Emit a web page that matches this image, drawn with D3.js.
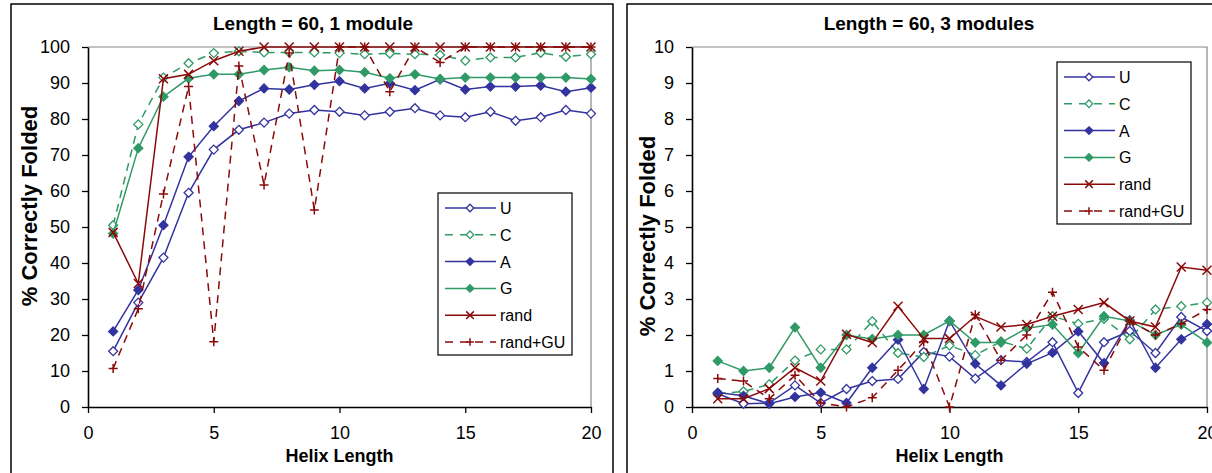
<!DOCTYPE html>
<html>
<head>
<meta charset="utf-8">
<script src="https://cdn.jsdelivr.net/npm/d3@7"></script>
<style>
  body { margin: 0; background: #fff; }
  svg { display: block; font-family: "Liberation Sans", Arial, sans-serif; }
</style>
</head>
<body>
<svg id="chart" width="1212" height="473"></svg>
<script>
// helix lengths (x categories)
var helixLength = [1, 2, 3, 4, 5, 6, 7, 8, 9, 10, 11, 12, 13, 14, 15, 16, 17, 18, 19, 20];
var seriesNames = ["U", "C", "A", "G", "rand", "rand+GU"];

// Length = 60, 1 module
var oneU = [15.5, 29, 41.5, 59.5, 71.5, 77, 79, 81.5, 82.5, 82, 81, 82, 83, 81, 80.5, 82, 79.5, 80.5, 82.5, 81.5];
var oneC = [50.5, 78.5, 91.5, 95.5, 98.3, 98.8, 98.5, 98.5, 98.5, 98.3, 98, 98.2, 98, 97.8, 96.2, 97.1, 97.1, 98.4, 97.3, 98];
var oneA = [21, 32.5, 50.5, 69.5, 78, 85, 88.5, 88.2, 89.5, 90.5, 88.5, 89.9, 88, 91, 88.2, 89, 89, 89.3, 87.6, 88.7];
var oneG = [48.2, 71.9, 86.2, 91.3, 92.4, 92.4, 93.6, 94.4, 93.4, 93.6, 93, 91.3, 92.4, 91.1, 91.5, 91.5, 91.5, 91.5, 91.5, 91.1];
var oneRand = [48.5, 34.3, 91.2, 92.4, 96.2, 98.8, 100, 100, 100, 100, 100, 100, 100, 100, 100, 100, 100, 100, 100, 100];
var oneRandGU = [10.7, 27.3, 59.2, 89, 18.1, 94.7, 61.7, 98.3, 54.7, 100, 100, 87.6, 100, 95.7, 100, 100, 100, 100, 100, 100];

// Length = 60, 3 modules
var threeU = [0.37, 0.09, 0.11, 0.6, 0.11, 0.5, 0.72, 0.78, 1.53, 1.4, 0.79, 1.3, 1.25, 1.8, 0.39, 1.8, 2.11, 1.5, 2.5, 2.11];
var threeC = [0.37, 0.43, 0.63, 1.29, 1.6, 1.6, 2.38, 1.5, 1.39, 1.71, 1.44, 1.82, 1.62, 2.52, 2.31, 2.45, 1.88, 2.71, 2.8, 2.9];
var threeA = [0.4, 0.31, 0.09, 0.28, 0.4, 0.11, 1.09, 1.87, 0.5, 2.39, 1.2, 0.6, 1.2, 1.51, 2.1, 1.22, 2.41, 1.09, 1.88, 2.3];
var threeG = [1.28, 1.0, 1.09, 2.21, 1.09, 2.0, 1.89, 2.0, 2.0, 2.39, 1.79, 1.79, 2.19, 2.29, 1.5, 2.52, 2.39, 2.0, 2.29, 1.79];
var threeRand = [0.23, 0.23, 0.51, 1.09, 0.72, 2.02, 1.79, 2.8, 1.9, 1.9, 2.52, 2.22, 2.29, 2.52, 2.71, 2.9, 2.39, 2.22, 3.89, 3.8];
var threeRandGU = [0.79, 0.72, 0.23, 0.88, 0.11, 0, 0.26, 1.02, 1.81, 0, 2.56, 1.3, 2.0, 3.19, 1.67, 1.02, 2.39, 2.0, 2.31, 2.71];

var xTicks = [0, 5, 10, 15, 20];
var yTicksOne = [0, 10, 20, 30, 40, 50, 60, 70, 80, 90, 100];
var yTicksThree = [0, 1, 2, 3, 4, 5, 6, 7, 8, 9, 10];

var blue = "#33339f", green = "#2f9a66", red = "#8a0a0a";
var styles = {
    "U":       { color: blue,  dash: null,  marker: "diamond", fill: "#fff" },
    "C":       { color: green, dash: "8,6", marker: "diamond", fill: "#fff" },
    "A":       { color: blue,  dash: null,  marker: "diamond", fill: blue },
    "G":       { color: green, dash: null,  marker: "diamond", fill: green },
    "rand":    { color: red,   dash: null,  marker: "cross" },
    "rand+GU": { color: red,   dash: "8,6", marker: "plus" }
};

var svg = d3.select("#chart");

function drawMarker(g, name, x, y, s) {
    var st = styles[name];
    if (st.marker == "diamond") {
        g.append("path")
            .attr("d", "M" + x + "," + (y - s) + "L" + (x + s) + "," + y + "L" + x + "," + (y + s) + "L" + (x - s) + "," + y + "Z")
            .attr("fill", st.fill).attr("stroke", st.color).attr("stroke-width", 1.3);
    } else if (st.marker == "cross") {
        g.append("path")
            .attr("d", "M" + (x - s) + "," + (y - s) + "L" + (x + s) + "," + (y + s) + "M" + (x - s) + "," + (y + s) + "L" + (x + s) + "," + (y - s))
            .attr("stroke", st.color).attr("stroke-width", 1.5).attr("fill", "none");
    } else {
        g.append("path")
            .attr("d", "M" + (x - s) + "," + y + "L" + (x + s) + "," + y + "M" + x + "," + (y - s) + "L" + x + "," + (y + s))
            .attr("stroke", st.color).attr("stroke-width", 1.5).attr("fill", "none");
    }
}

function drawPanel(cfg) {
    var g = svg.append("g");

    // chart frame
    g.append("rect")
        .attr("x", cfg.frame[0]).attr("y", cfg.frame[1])
        .attr("width", cfg.frame[2]).attr("height", cfg.frame[3])
        .attr("fill", "none").attr("stroke", "#000").attr("stroke-width", 1.5);

    var x = d3.scaleLinear().domain([0, 20]).range([cfg.left, cfg.right]);
    var y = d3.scaleLinear().domain([0, cfg.yMax]).range([cfg.bottom, cfg.top]);

    // plot area border (top + right, grey)
    g.append("path")
        .attr("d", "M" + cfg.left + "," + cfg.top + "H" + cfg.right + "V" + cfg.bottom)
        .attr("fill", "none").attr("stroke", "#888").attr("stroke-width", 1.2);

    var yAxis = g.append("g")
        .attr("transform", "translate(" + cfg.left + ",0)")
        .call(d3.axisLeft(y).tickValues(cfg.yTicks).tickSize(6).tickPadding(12).tickSizeOuter(0));
    var xAxis = g.append("g")
        .attr("transform", "translate(0," + cfg.bottom + ")")
        .call(d3.axisBottom(x).tickValues(xTicks).tickSize(6).tickPadding(13).tickSizeOuter(0));
    [xAxis, yAxis].forEach(function (a) {
        a.select(".domain").attr("stroke", "#000").attr("stroke-width", 1.6);
        a.selectAll(".tick line").attr("stroke", "#000").attr("stroke-width", 1.3);
        a.selectAll(".tick text").attr("font-size", 18).attr("fill", "#000")
            .attr("font-family", "'Liberation Sans', Arial, sans-serif");
    });

    var line = d3.line()
        .x(function (d) { return x(d[0]); })
        .y(function (d) { return y(d[1]); });

    cfg.series.forEach(function (vals, i) {
        var name = seriesNames[i];
        var st = styles[name];
        var pts = helixLength.map(function (h, j) { return [h, vals[j]]; });
        g.append("path")
            .datum(pts)
            .attr("d", line)
            .attr("fill", "none")
            .attr("stroke", st.color)
            .attr("stroke-width", 1.5)
            .attr("stroke-dasharray", st.dash);
        pts.forEach(function (p) {
            drawMarker(g, name, x(p[0]), y(p[1]), 4.5);
        });
    });

    // titles
    g.append("text")
        .attr("x", cfg.titleX).attr("y", 30)
        .attr("text-anchor", "middle").attr("font-weight", "bold").attr("font-size", 19)
        .text(cfg.title);
    g.append("text")
        .attr("x", (cfg.left + cfg.right) / 2).attr("y", 462)
        .attr("text-anchor", "middle").attr("font-weight", "bold").attr("font-size", 18)
        .text("Helix Length");
    g.append("text")
        .attr("transform", "translate(" + cfg.yTitleX + "," + cfg.yTitleY + ") rotate(-90)")
        .attr("text-anchor", "middle").attr("font-weight", "bold").attr("font-size", 22)
        .text("% Correctly Folded");

    // legend
    var lg = g.append("g").attr("transform", "translate(" + cfg.legend[0] + "," + cfg.legend[1] + ")");
    lg.append("rect")
        .attr("width", 134).attr("height", 162)
        .attr("fill", "#fff").attr("stroke", "#000").attr("stroke-width", 1.2);
    seriesNames.forEach(function (name, i) {
        var st = styles[name];
        var ly = 15 + i * 26.8;
        lg.append("line")
            .attr("x1", 7).attr("x2", 58).attr("y1", ly).attr("y2", ly)
            .attr("stroke", st.color).attr("stroke-width", 1.5)
            .attr("stroke-dasharray", st.dash ? "8,7" : null);
        drawMarker(lg, name, 32, ly, 3.8);
        lg.append("text")
            .attr("x", 62).attr("y", ly + 6)
            .attr("font-size", 16)
            .text(name);
    });
}

drawPanel({
    frame: [11, 4, 602, 480],
    left: 88, right: 591, top: 47, bottom: 407,
    yMax: 100, yTicks: yTicksOne,
    series: [oneU, oneC, oneA, oneG, oneRand, oneRandGU],
    title: "Length = 60, 1 module", titleX: 313, yTitleX: 37, yTitleY: 206,
    legend: [438, 193]
});

drawPanel({
    frame: [627, 4, 600, 480],
    left: 692, right: 1207, top: 47, bottom: 407,
    yMax: 10, yTicks: yTicksThree,
    series: [threeU, threeC, threeA, threeG, threeRand, threeRandGU],
    title: "Length = 60, 3 modules", titleX: 929, yTitleX: 655, yTitleY: 236,
    legend: [1057, 62]
});
</script>
</body>
</html>
